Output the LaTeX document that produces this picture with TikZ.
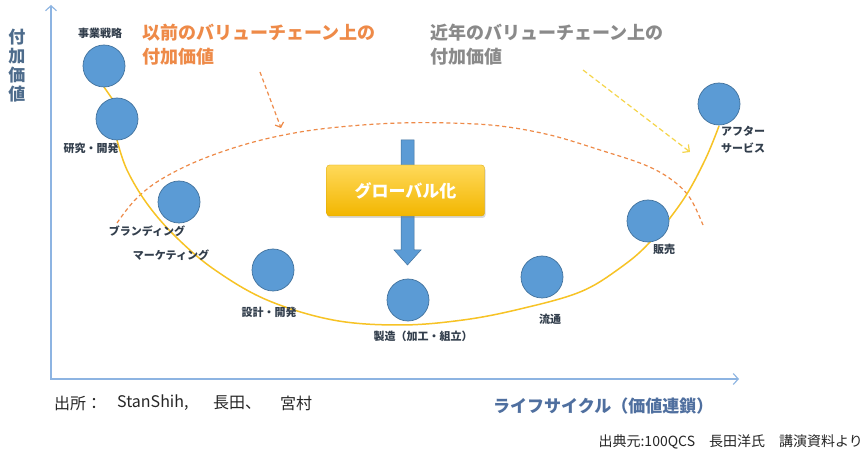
\documentclass[tikz,border=0pt]{standalone}
\usepackage{fontspec}
\setmainfont{Noto Sans CJK JP}
\usetikzlibrary{arrows.meta,shadows}
\definecolor{cblue}{HTML}{5B9BD5}
\definecolor{cblueb}{HTML}{41719C}
\definecolor{axisc}{HTML}{8DB4E2}
\definecolor{curvec}{HTML}{F7C325}
\definecolor{orangec}{HTML}{EE8A48}
\definecolor{yelc}{HTML}{F5D54A}
\definecolor{labelc}{HTML}{323E4C}
\definecolor{ytitle}{HTML}{4E6C8C}
\definecolor{xtitle}{HTML}{4F6F9F}
\definecolor{grayt}{HTML}{8A8A8A}
\definecolor{goldtop}{HTML}{FFD95A}
\definecolor{goldbot}{HTML}{F2B600}
\begin{document}
\begin{tikzpicture}[x=1pt,y=-1pt,
  stage/.style={circle,minimum size=42pt,inner sep=0pt,fill=cblue,draw=cblueb,line width=0.7pt},
  lab/.style={inner sep=0pt,text=labelc,font=\bfseries\fontsize{11}{13}\selectfont},
  title/.style={inner sep=0pt,anchor=west,align=left,font=\bfseries\fontsize{18}{24}\selectfont},
  srcstyle/.style={inner sep=0pt,anchor=west,text=black!85,font=\fontsize{16}{18}\selectfont},
  axis/.style={axisc,line width=1.1pt}
]
\useasboundingbox[fill=white] (0,0) rectangle (865,454);

% axes
\coordinate (ytip) at (51,5);
\coordinate (origin) at (51,379);
\coordinate (xtip) at (739,379);
\draw[axis,{Straight Barb[length=5pt,width=11pt]}-{Straight Barb[length=5pt,width=11pt]}] (ytip) -- (origin) -- (xtip);

\node[inner sep=0pt,text=ytitle,align=center,font=\bfseries\fontsize{17}{19}\selectfont] (ylab) at (17,66) {付\\加\\価\\値};

% orange dashed ellipse
\draw[orangec,line width=1.2pt,dash pattern=on 4pt off 3pt] plot[smooth,tension=0.6] coordinates {
 (117,223) (135,200) (160,180) (200,160) (250,143) (300,132) (350,126) (400,123) (450,123) (500,126) (550,135) (600,150) (645,165) (672,180) (690,198) (703,225)};

% yellow curve
\coordinate (c0) at (104,87);
\coordinate (c1) at (113,100);
\draw[curvec,line width=1.5pt] (c0) -- (c1);
\draw[curvec,line width=1.5pt] plot[smooth,tension=0.6] coordinates {
 (117,140) (127,170) (148,205) (177,238) (215,270) (267,300) (333,320) (400,325) (463,320) (520,309) (580,292) (620,268) (650,242) (683,200) (705,160) (719,126)};

% blue down arrow
\fill[cblue,draw=cblueb,line width=0.5pt] (401,140) -- (414,140) -- (414,250) -- (421,250) -- (407.5,265) -- (394,250) -- (401,250) -- cycle;

% globalization box
\node[rounded corners=3pt,minimum width=158pt,minimum height=51pt,inner sep=0pt,
  top color=goldtop,bottom color=goldbot,draw=goldbot!90!black,line width=0.3pt,
  drop shadow={opacity=0.3,shadow xshift=1pt,shadow yshift=-2pt},
  text=white,font=\bfseries\fontsize{17}{20}\selectfont] (glob) at (405.5,190.5) {グローバル化};

% stages
\node[stage] (s1) at (104,66) {};
\node[stage] (s2) at (117,119) {};
\node[stage] (s3) at (179,202) {};
\node[stage] (s4) at (273,270) {};
\node[stage] (s5) at (408,300) {};
\node[stage] (s6) at (542,277) {};
\node[stage] (s7) at (648,221) {};
\node[stage] (s8) at (719,104) {};

\node[lab] (l1) at (100,33) {事業戦略};
\node[lab] (l2) at (91,148) {研究・開発};
\node[lab] (l3a) at (147,231) {ブランディング};
\node[lab] (l3b) at (171,255) {マーケティング};
\node[lab] (l4) at (269,312) {設計・開発};
\node[lab] (l5) at (423,336) {製造（加工・組立）};
\node[lab] (l6) at (550,319) {流通};
\node[lab] (l7) at (664,249) {販売};
\node[lab,anchor=west,align=left,font=\bfseries\fontsize{11}{17}\selectfont] (l8) at (721,140) {アフター\\サービス};

% titles
\node[title,text=orangec] (t1) at (142,45) {以前のバリューチェーン上の\\付加価値};
\node[title,text=grayt] (t2) at (430,45) {近年のバリューチェーン上の\\付加価値};

% dashed pointers
\coordinate (p1s) at (260,72);
\coordinate (p1e) at (281,128);
\draw[orangec,line width=1.2pt,dash pattern=on 4pt off 3pt,-{Straight Barb[length=4pt,width=9pt]}] (p1s) -- (p1e);
\coordinate (p2s) at (583,70);
\coordinate (p2e) at (690,152);
\draw[yelc,line width=1.2pt,dash pattern=on 5pt off 3pt,-{Straight Barb[length=5pt,width=10pt]}] (p2s) -- (p2e);

% bottom texts
\node[srcstyle] (src1) at (54,403) {出所：};
\node[srcstyle] (src2) at (117,403) {StanShih,};
\node[srcstyle] (src3) at (213,403) {長田、};
\node[srcstyle] (src4) at (280,403) {宮村};
\node[inner sep=0pt,anchor=west,text=xtitle,font=\bfseries\fontsize{17}{19}\selectfont] (xlab) at (493,406) {ライフサイクル（価値連鎖）};
\node[inner sep=0pt,anchor=east,text=black!85,font=\fontsize{14}{16}\selectfont] (ref) at (863,442) {出典元:100QCS　長田洋氏　講演資料より};
\end{tikzpicture}
\end{document}
